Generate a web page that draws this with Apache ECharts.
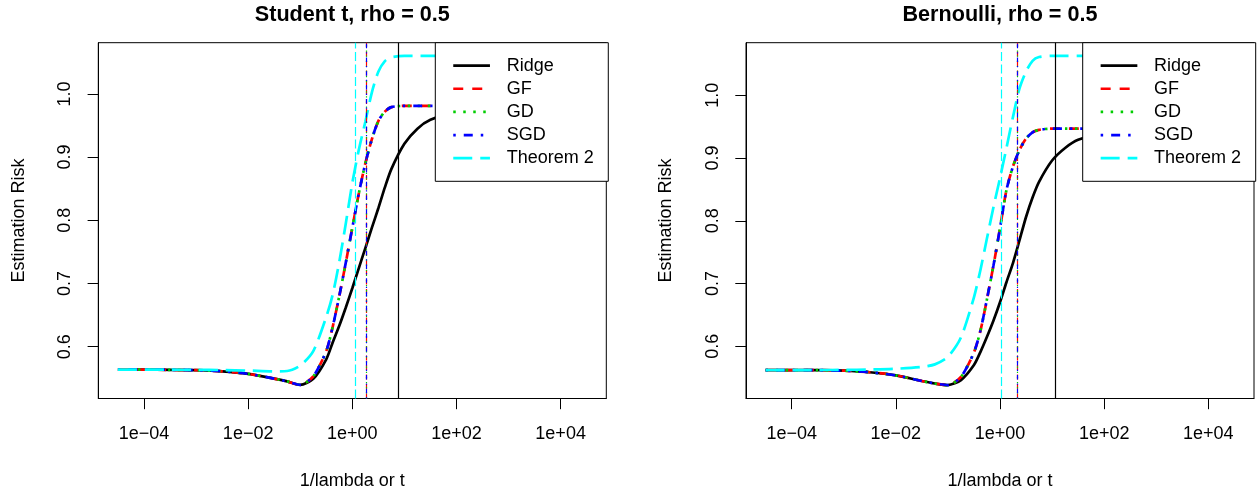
<!DOCTYPE html>
<html><head><meta charset="utf-8">
<script src="https://cdn.jsdelivr.net/npm/echarts@6/dist/echarts.min.js"></script>
<style>html,body{margin:0;padding:0;background:#fff}#c{width:1258px;height:495px}</style>
</head><body><div id="c"></div>
<script>
// x positions (1/lambda or t) at which values were read
const xValues = [3.16e-5, 1e-4, 3.16e-4, 1e-3, 3.16e-3, 1e-2, 0.0316, 0.0562, 0.1, 0.178, 0.316, 0.422, 0.562, 0.75, 1, 1.33, 1.78, 2.37, 3.16, 4.22, 5.62, 10, 17.8, 31.6, 100, 316, 1000, 3160, 10000, 31600];

// Student t panel
const ridgeLeft = [0.5636,0.5636,0.5634,0.5628,0.561,0.557,0.5495,0.545,0.5395,0.549,0.580,0.607,0.633,0.662,0.6925,0.724,0.756,0.788,0.819,0.852,0.881,0.921,0.945,0.959,0.972,0.978,0.980,0.981,0.981,0.981];
const gfLeft    = [0.5636,0.5636,0.5634,0.5628,0.561,0.557,0.5495,0.545,0.5395,0.553,0.593,0.632,0.680,0.733,0.788,0.842,0.890,0.928,0.957,0.972,0.979,0.981,0.981,0.981,0.981,0.981,0.981,0.981,0.981,0.981];
const gdLeft    = [0.5636,0.5636,0.5634,0.5628,0.561,0.557,0.5495,0.545,0.5395,0.553,0.593,0.632,0.680,0.733,0.788,0.842,0.890,0.928,0.957,0.972,0.979,0.981,0.981,0.981,0.981,0.981,0.981,0.981,0.981,0.981];
const sgdLeft   = [0.5636,0.5636,0.5634,0.5628,0.561,0.557,0.5495,0.545,0.5395,0.553,0.593,0.632,0.680,0.733,0.788,0.842,0.890,0.928,0.957,0.972,0.979,0.981,0.981,0.981,0.981,0.981,0.981,0.981,0.981,0.981];
const thmLeft   = [0.5636,0.5636,0.5636,0.5634,0.563,0.5622,0.561,0.5615,0.570,0.593,0.647,0.683,0.734,0.795,0.859,0.911,0.956,1.002,1.035,1.052,1.058,1.060,1.060,1.060,1.060,1.060,1.060,1.060,1.060,1.060];
// vertical reference lines: Ridge, GF, GD, SGD, Theorem 2
const vlineLeft = [7.64, 1.83, 1.83, 1.83, 1.16];

// Bernoulli panel
const ridgeRight = [0.562,0.562,0.5618,0.561,0.5585,0.5535,0.5445,0.5405,0.538,0.546,0.570,0.591,0.615,0.641,0.670,0.702,0.733,0.769,0.806,0.837,0.862,0.896,0.916,0.929,0.940,0.945,0.946,0.947,0.947,0.947];
const gfRight    = [0.562,0.562,0.5618,0.561,0.5585,0.5535,0.5445,0.5405,0.538,0.551,0.590,0.625,0.675,0.729,0.788,0.849,0.887,0.913,0.931,0.941,0.945,0.947,0.947,0.947,0.947,0.947,0.947,0.947,0.947,0.947];
const gdRight    = [0.562,0.562,0.5618,0.561,0.5585,0.5535,0.5445,0.5405,0.538,0.551,0.590,0.625,0.675,0.729,0.788,0.849,0.887,0.913,0.931,0.941,0.945,0.947,0.947,0.947,0.947,0.947,0.947,0.947,0.947,0.947];
const sgdRight   = [0.562,0.562,0.5618,0.561,0.5585,0.5535,0.5445,0.5405,0.538,0.551,0.590,0.625,0.675,0.729,0.788,0.849,0.887,0.913,0.931,0.941,0.945,0.947,0.947,0.947,0.947,0.947,0.947,0.947,0.947,0.947];
const thmRight   = [0.562,0.562,0.562,0.5622,0.5628,0.564,0.567,0.571,0.583,0.614,0.678,0.722,0.772,0.822,0.868,0.916,0.966,1.011,1.038,1.055,1.061,1.063,1.063,1.063,1.063,1.063,1.063,1.063,1.063,1.063];
const vlineRight = [11.7, 2.18, 2.18, 2.18, 1.06];

const seriesNames = ['Ridge', 'GF', 'GD', 'SGD', 'Theorem 2'];
const panelTitles = ['Student t, rho = 0.5', 'Bernoulli, rho = 0.5'];
const xTickValues = [1e-4, 1e-2, 1, 1e2, 1e4];
const xTickLabels = ['1e\u221204', '1e\u221202', '1e+00', '1e+02', '1e+04'];
const yTickValues = [0.6, 0.7, 0.8, 0.9, 1.0];
const xName = '1/lambda or t';
const yName = 'Estimation Risk';

const FONT = '"Liberation Sans", Arial, Helvetica, sans-serif';
const colors = ['#000000', '#FF0000', '#00CD00', '#0000FF', '#00FFFF'];
const curveDash = ['solid', [10, 9], [2.5, 7.5], [2.5, 8, 9, 8], [19, 8]];
const vDash = ['solid', [5, 4.5], [1.3, 3.8], [1.3, 4, 4.5, 4], [9, 3.5]];

const panels = [
  {data: [ridgeLeft, gfLeft, gdLeft, sgdLeft, thmLeft], vl: vlineLeft, left: 98.3, ymin: 0.518, ymax: 1.081, legLeft: 435.3},
  {data: [ridgeRight, gfRight, gdRight, sgdRight, thmRight], vl: vlineRight, left: 746, ymin: 0.5166, ymax: 1.0839, legLeft: 1082.7}
];

function xLabel(v) {
  for (let i = 0; i < xTickValues.length; i++) {
    if (Math.abs(Math.log10(v) - Math.log10(xTickValues[i])) < 1e-6) return xTickLabels[i];
  }
  return '';
}

const grid = [], xAxis = [], yAxis = [], series = [], title = [], legend = [];
panels.forEach((p, pi) => {
  grid.push({left: p.left, top: 42.7, width: 508, height: 358.3, show: true, borderColor: '#000', borderWidth: 1, backgroundColor: 'transparent', containLabel: false});
  xAxis.push({
    type: 'log', logBase: 10, gridIndex: pi, min: 1.327e-5, max: 7.534e4,
    name: xName, nameLocation: 'middle', nameGap: 73.5,
    nameTextStyle: {fontFamily: FONT, fontSize: 18, color: '#000'},
    axisLine: {show: true, lineStyle: {color: '#000', width: 1}},
    axisTick: {show: true, inside: false, length: 10.7, customValues: xTickValues, lineStyle: {color: '#000', width: 1}},
    axisLabel: {show: true, margin: 27, customValues: xTickValues, formatter: xLabel, fontFamily: FONT, fontSize: 18, color: '#000'},
    splitLine: {show: false}, minorTick: {show: false}
  });
  yAxis.push({
    type: 'value', gridIndex: pi, min: p.ymin, max: p.ymax,
    name: yName, nameLocation: 'middle', nameGap: 70.5,
    nameTextStyle: {fontFamily: FONT, fontSize: 18, color: '#000'},
    axisLine: {show: true, lineStyle: {color: '#000', width: 1}},
    axisTick: {show: true, inside: false, length: 10.7, customValues: yTickValues, lineStyle: {color: '#000', width: 1}},
    axisLabel: {show: true, rotate: 90, margin: 24, customValues: yTickValues, formatter: v => Number(v).toFixed(1), fontFamily: FONT, fontSize: 18, color: '#000'},
    splitLine: {show: false}
  });
  title.push({
    text: panelTitles[pi], left: p.left + 254, top: 4, textAlign: 'center', padding: 0,
    textStyle: {fontFamily: FONT, fontSize: 21.6, fontWeight: 'bold', color: '#000'}
  });
  legend.push({
    orient: 'vertical', left: p.legLeft, top: 42.7, padding: [11.4, 14.6, 11.6, 16.6],
    itemWidth: 36.7, itemHeight: 14, itemGap: 0.15,
    backgroundColor: '#fff', borderColor: '#000', borderWidth: 1, borderRadius: 0,
    data: seriesNames, selectedMode: false,
    itemStyle: {opacity: 0, borderWidth: 0},
    lineStyle: {width: 2.7, opacity: 1}, z: 10,
    textStyle: {fontFamily: FONT, fontSize: 18, color: '#000', lineHeight: 23, padding: [0, 0, 0, 11.7]}
  });
  p.data.forEach((ys, si) => {
    series.push({
      type: 'line', name: seriesNames[si], xAxisIndex: pi, yAxisIndex: pi,
      data: xValues.map((x, i) => [x, ys[i]]),
      symbol: 'none', showSymbol: false, smooth: 0.25,
      lineStyle: {color: colors[si], width: 2.7, type: curveDash[si], cap: 'butt'},
      itemStyle: {color: colors[si]},
      animation: false, silent: true, z: 2 + si * 0.01,
      markLine: {
        silent: true, symbol: ['none', 'none'], animation: false,
        label: {show: false},
        lineStyle: {color: colors[si], width: 1.2, type: vDash[si]},
        emphasis: {disabled: true},
        data: [{xAxis: p.vl[si]}]
      }
    });
  });
});

const chart = echarts.init(document.getElementById('c'), null, {renderer: 'canvas'});
chart.setOption({backgroundColor: '#fff', animation: false, title, grid, xAxis, yAxis, legend, series});
</script>
</body></html>
